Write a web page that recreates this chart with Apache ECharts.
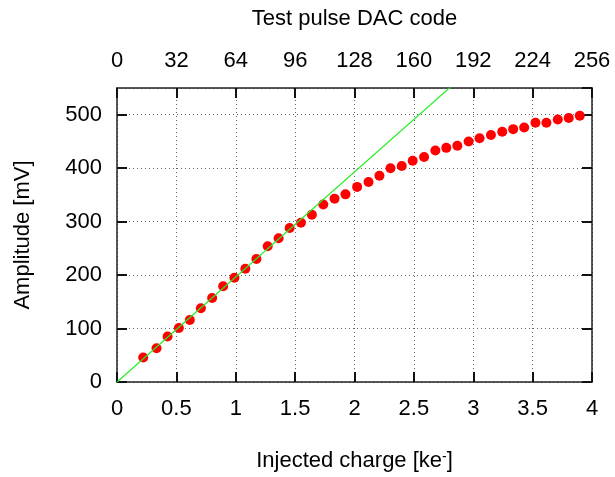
<!DOCTYPE html>
<html>
<head>
<meta charset="utf-8">
<script src="https://cdn.jsdelivr.net/npm/echarts@6/dist/echarts.min.js"></script>
<style>
  html, body { margin: 0; padding: 0; background: #fff; }
  #chart { width: 615px; height: 477px; }
</style>
</head>
<body>
<div id="chart"></div>
<script>
// injected charge [ke-] of each measured point
var charge = [0.221, 0.333, 0.426, 0.521, 0.613, 0.706, 0.801, 0.894, 0.989, 1.081,
    1.174, 1.269, 1.361, 1.454, 1.549, 1.641, 1.737, 1.832, 1.924, 2.022,
    2.118, 2.21, 2.303, 2.398, 2.49, 2.586, 2.681, 2.773, 2.866, 2.961,
    3.053, 3.149, 3.244, 3.336, 3.429, 3.524, 3.616, 3.712, 3.804, 3.897];
// measured amplitude [mV]
var amplitude = [46, 63, 85, 101, 116, 138, 157, 179, 195, 212,
    230, 254, 269, 288, 298, 313, 332, 343, 351, 365,
    374, 386, 400, 404, 414, 421, 433, 438, 442, 450,
    456, 462, 468, 473, 476, 485, 485, 491, 494, 498];
// linear fit through origin (end points)
var fitX = [0, 4];
var fitY = [0, 786];

var font = 'Liberation Sans, Arial, Helvetica, sans-serif';

var points = charge.map(function(c, i) {
    return [c, amplitude[i]];
});
var fit = fitX.map(function(x, i) {
    return [x, fitY[i]];
});

function inTick() {
    return { show: true, inside: true, length: 10, lineStyle: { color: '#111', width: 2 } };
}
function axLine() {
    return { show: true, onZero: false, lineStyle: { color: '#222', width: 1.5 } };
}
function dotted() {
    return { show: true, lineStyle: { color: '#666', width: 1, type: [1, 3] } };
}
function label(margin) {
    return { color: '#000', fontSize: 22, margin: margin, fontFamily: font, showMaxLabel: false };
}
function nameStyle() {
    return { color: '#000', fontSize: 22, fontFamily: font };
}

var chart = echarts.init(document.getElementById('chart'));

var option = {
    animation: false,
    textStyle: { fontFamily: font },
    grid: { left: 117, right: 23, top: 88, bottom: 94 },
    xAxis: [{
        type: 'value',
        min: 0,
        max: 4,
        interval: 0.5,
        position: 'bottom',
        axisLine: axLine(),
        axisTick: inTick(),
        splitLine: dotted(),
        axisLabel: { color: '#000', fontSize: 22, margin: 16, fontFamily: font },
        name: 'Injected charge [ke{sup|-}]',
        nameLocation: 'middle',
        nameGap: 68,
        nameTextStyle: {
            color: '#000', fontSize: 22, fontFamily: font,
            rich: { sup: { fontSize: 14, verticalAlign: 'top', padding: [0, 0, 8, 0] } }
        }
    }, {
        type: 'value',
        min: 0,
        max: 256,
        interval: 32,
        position: 'top',
        axisLine: axLine(),
        axisTick: inTick(),
        splitLine: { show: false },
        axisLabel: { color: '#000', fontSize: 22, margin: 16, fontFamily: font },
        name: 'Test pulse DAC code',
        nameLocation: 'middle',
        nameGap: 58,
        nameTextStyle: nameStyle()
    }],
    yAxis: [{
        type: 'value',
        min: 0,
        max: 550,
        interval: 100,
        position: 'left',
        axisLine: axLine(),
        axisTick: inTick(),
        splitLine: dotted(),
        axisLabel: label(15),
        name: 'Amplitude [mV]',
        nameLocation: 'middle',
        nameGap: 83,
        nameTextStyle: nameStyle()
    }, {
        type: 'value',
        min: 0,
        max: 550,
        interval: 100,
        position: 'right',
        axisLine: axLine(),
        axisTick: inTick(),
        splitLine: { show: false },
        axisLabel: { show: false }
    }],
    series: [{
        name: 'fit',
        type: 'line',
        data: fit,
        xAxisIndex: 0,
        yAxisIndex: 0,
        showSymbol: false,
        clip: true,
        lineStyle: { color: '#22ee22', width: 1.2 }
    }, {
        name: 'data',
        type: 'scatter',
        data: points,
        xAxisIndex: 0,
        yAxisIndex: 0,
        symbol: 'circle',
        symbolSize: 10,
        itemStyle: { color: '#ff0000', opacity: 1 }
    }]
};
chart.setOption(option);
</script>
</body>
</html>
